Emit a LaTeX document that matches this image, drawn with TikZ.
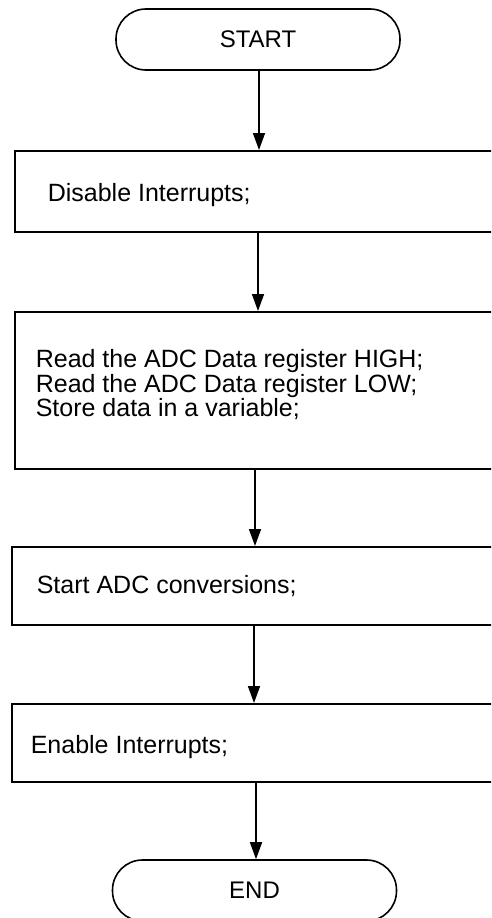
\documentclass[tikz,border=0pt]{standalone}
\usepackage{fontspec}
\setmainfont{Liberation Sans}
\usetikzlibrary{arrows.meta}
\begin{document}
\begin{tikzpicture}[x=1pt,y=-1pt,
  line width=1.6pt,
  term/.style={draw, rectangle, rounded corners=30pt, minimum width=284pt, minimum height=61pt, inner sep=0pt, font=\fontsize{24}{26}\selectfont},
  stepbox/.style={draw, rectangle, anchor=north west, minimum width=520pt, inner sep=0pt},
  txt/.style={inner sep=0pt, align=left, font=\fontsize{25}{22.3}\selectfont},
  arr/.style={-{Triangle[length=17pt,width=12pt]}}]
\useasboundingbox (0,0) rectangle (491,918);
\clip (0,0) rectangle (491,918);

\node[term] (start) at (258,39.5) {START};

\node[stepbox, minimum height=81pt] (b1) at (14,150) {};
\node[txt, anchor=base west] (t1) at (47,201.7) {Disable Interrupts;};

\node[stepbox, minimum height=157pt] (b2) at (14,311) {};
\node[txt, anchor=north west] (t2) at (35,349) {Read the ADC Data register HIGH;\\Read the ADC Data register LOW;\\Store data in a variable;};

\node[stepbox, minimum height=78pt] (b3) at (11,546) {};
\node[txt, anchor=base west] (t3) at (36,593) {Start ADC conversions;};

\node[stepbox, minimum height=78pt] (b4) at (11,703) {};
\node[txt, anchor=base west] (t4) at (30,753) {Enable Interrupts;};

\node[term] (end) at (254.5,890.5) {END};

\coordinate (x1) at (259,0);
\coordinate (x2) at (258,0);
\coordinate (x3) at (255,0);
\coordinate (x4) at (254,0);
\coordinate (x5) at (256,0);

\draw[arr] (start.south -| x1) -- (b1.north -| x1);
\draw[arr] (b1.south -| x2) -- (b2.north -| x2);
\draw[arr] (b2.south -| x3) -- (b3.north -| x3);
\draw[arr] (b3.south -| x4) -- (b4.north -| x4);
\draw[arr] (b4.south -| x5) -- (end.north -| x5);
\end{tikzpicture}
\end{document}
